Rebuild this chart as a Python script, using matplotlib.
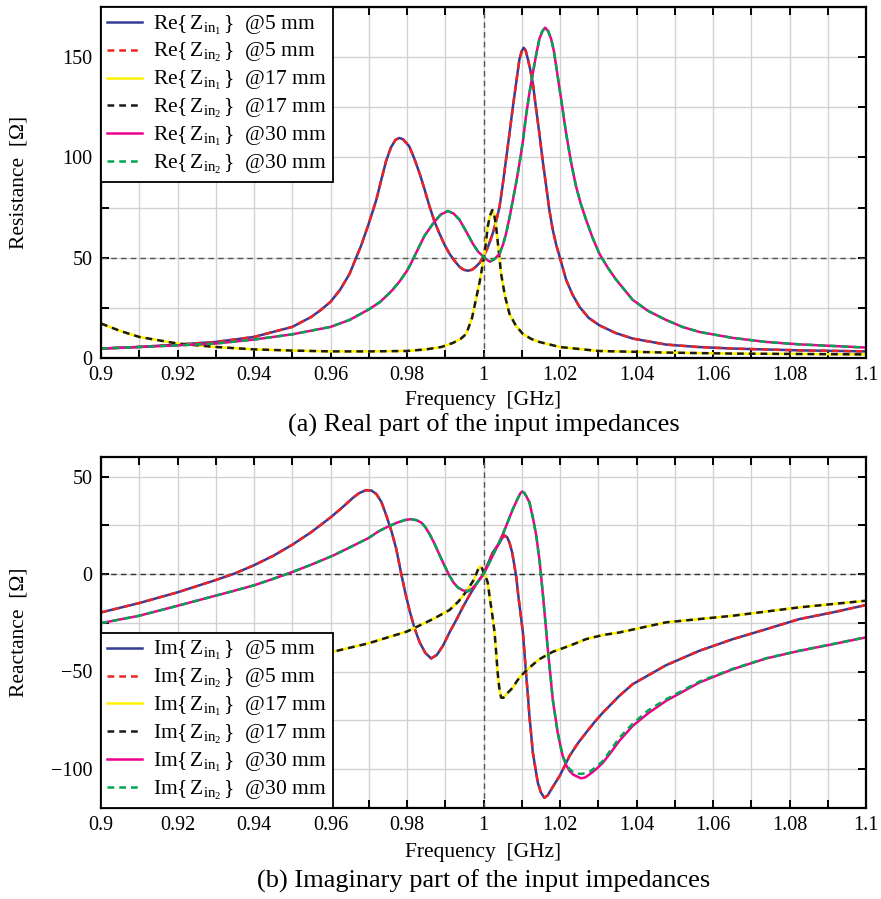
import matplotlib
matplotlib.use('Agg')
import matplotlib.pyplot as plt
from matplotlib.ticker import MultipleLocator, FuncFormatter

plt.rcParams['font.family'] = ['Liberation Serif', 'DejaVu Serif']
plt.rcParams['mathtext.fontset'] = 'custom'
plt.rcParams['mathtext.rm'] = 'Liberation Serif'
plt.rcParams['mathtext.it'] = 'Liberation Serif:italic'
plt.rcParams['mathtext.bf'] = 'Liberation Serif:bold'
plt.rcParams['axes.unicode_minus'] = True

# ---------------- data ----------------
# Resistance, 5 mm
f_re_5 = [0.900, 0.910, 0.920, 0.930, 0.940, 0.950, 0.955, 0.9575, 0.960, 0.9625, 0.965, 0.9667,
          0.968, 0.970, 0.972, 0.9733, 0.9745, 0.9758, 0.977, 0.978, 0.979, 0.9806,
          0.982, 0.9833, 0.9846, 0.9859, 0.9872, 0.9885, 0.9898, 0.9911, 0.9924, 0.9937,
          0.9948, 0.9959, 0.997, 0.998, 0.999, 1.000, 1.0012, 1.0024, 1.0033, 1.0042,
          1.005, 1.0059, 1.0068, 1.0077, 1.0086, 1.0094, 1.010, 1.0105, 1.011, 1.0116,
          1.0122, 1.0129, 1.0137, 1.0146, 1.0155, 1.0164, 1.0172, 1.0181, 1.019, 1.0199,
          1.0216, 1.0233, 1.0251, 1.0275, 1.0303, 1.0345, 1.039, 1.0477, 1.056, 1.0652,
          1.0826, 1.100]
re_5 = [4.7, 5.5, 6.7, 8.0, 10.5, 15.5, 20.5, 24.0, 28.0, 34.0, 42.0, 50.0,
        56.0, 67.0, 79.0, 89.0, 98.0, 105.0, 108.8, 109.7, 109.0, 105.5,
        99.0, 92.0, 84.0, 75.5, 68.0, 62.0, 56.5, 52.0, 48.5, 45.5,
        44.0, 43.5, 44.0, 45.5, 47.5, 50.5, 55.5, 62.0, 68.0, 75.5,
        86.0, 99.0, 112.0, 125.5, 138.0, 149.0, 153.0, 154.7, 153.5, 149.0,
        144.0, 137.0, 125.0, 112.0, 98.0, 85.5, 74.0, 64.0, 56.5, 50.5,
        39.0, 31.5, 25.5, 20.0, 16.3, 12.5, 9.7, 6.7, 5.5, 4.7,
        3.8, 3.3]

# Resistance, 17 mm
f_re_17 = [0.900, 0.905, 0.910, 0.920, 0.930, 0.940, 0.950, 0.960, 0.970, 0.980, 0.985,
           0.989, 0.992, 0.994, 0.9955, 0.997, 0.998, 0.999, 1.000, 1.0006, 1.0011,
           1.0017, 1.0023, 1.0028, 1.0033, 1.004, 1.0046, 1.0056, 1.0068, 1.0085, 1.0103,
           1.0125, 1.0146, 1.0199, 1.030, 1.048, 1.065, 1.100]
re_17 = [17.2, 13.5, 10.5, 7.2, 5.5, 4.3, 3.7, 3.3, 3.3, 3.5, 4.3,
         5.5, 7.5, 9.5, 12.0, 20.0, 29.0, 38.0, 49.0, 57.0, 65.5,
         71.0, 73.8, 71.5, 65.5, 53.0, 42.0, 31.0, 22.0, 16.0, 12.0,
         9.5, 8.0, 5.5, 3.5, 2.7, 2.2, 1.8]

# Resistance, 30 mm
f_re_30 = [0.900, 0.910, 0.920, 0.930, 0.940, 0.950, 0.960, 0.965, 0.970, 0.973, 0.976,
           0.978, 0.980, 0.981, 0.9824, 0.9846, 0.9868, 0.9888, 0.9907, 0.9922, 0.9937,
           0.9955, 0.9972, 0.9986, 1.000, 1.0009, 1.0017, 1.003, 1.0042, 1.0051, 1.0059,
           1.0068, 1.0077, 1.0086, 1.0094, 1.0103, 1.0111, 1.012, 1.0129, 1.0138, 1.0146,
           1.0154, 1.0161, 1.0169, 1.0177, 1.0184, 1.019, 1.0203, 1.0216, 1.0229, 1.0242,
           1.0255, 1.0268, 1.0285, 1.0303, 1.0325, 1.0347, 1.039, 1.043, 1.0477, 1.052,
           1.0564, 1.0652, 1.0739, 1.0826, 1.100]
re_30 = [4.7, 5.5, 6.3, 7.2, 9.2, 11.8, 15.5, 19.0, 24.2, 28.0, 33.5,
         38.0, 43.5, 47.0, 52.5, 61.0, 67.0, 71.5, 73.3, 72.0, 69.0,
         63.0, 57.0, 53.0, 50.5, 49.0, 48.0, 49.5, 52.0, 56.5, 62.0,
         70.0, 79.0, 88.0, 97.0, 108.0, 120.5, 132.0, 142.0, 151.5, 159.0,
         163.0, 164.7, 163.0, 159.0, 153.0, 145.5, 129.0, 112.0, 97.5, 85.5,
         76.5, 69.0, 60.0, 52.0, 45.0, 39.0, 29.0, 23.5, 19.0, 15.5,
         13.0, 10.0, 8.0, 6.8, 5.2]

# Reactance, 5 mm
f_im_5 = [0.900, 0.910, 0.920, 0.930, 0.935, 0.940, 0.945, 0.950, 0.955, 0.960, 0.963,
          0.966, 0.9675, 0.9693, 0.9707, 0.972, 0.9733, 0.9746, 0.976, 0.9772, 0.9785,
          0.9796, 0.9807, 0.982, 0.9833, 0.9848, 0.9863, 0.9878, 0.9894, 0.9911, 0.9929,
          0.9946, 0.9963, 0.998, 1.000, 1.0012, 1.0024, 1.0035, 1.0042, 1.0049, 1.0055,
          1.0062, 1.0068, 1.0075, 1.0081, 1.0086, 1.009, 1.0094, 1.0098, 1.0103, 1.0107,
          1.0111, 1.0116, 1.012, 1.0125, 1.0129, 1.0136, 1.0142, 1.015, 1.0159, 1.0168,
          1.0177, 1.0188, 1.0199, 1.0212, 1.0225, 1.0246, 1.0268, 1.029, 1.0312, 1.0355,
          1.039, 1.0477, 1.0564, 1.0652, 1.0739, 1.0826, 1.0913, 1.100]
im_5 = [-19.7, -14.9, -9.4, -3.1, 0.3, 4.5, 9.3, 15.0, 21.5, 29.0, 34.0,
        39.3, 41.5, 43.0, 42.8, 41.0, 37.0, 30.0, 21.5, 12.8, 0.0,
        -10.0, -19.0, -28.0, -35.0, -40.5, -43.3, -41.5, -36.8, -30.0, -23.5,
        -17.0, -11.0, -5.5, 0.0, 5.5, 11.0, 14.0, 16.0, 18.5, 19.7,
        18.8, 16.0, 11.0, 4.0, -2.0, -9.4, -16.0, -22.0, -30.0, -40.0,
        -50.5, -62.0, -72.8, -83.0, -91.6, -100.0, -107.0, -112.0, -114.8, -113.5,
        -110.5, -107.0, -103.6, -98.5, -93.3, -87.0, -81.4, -76.0, -71.1, -62.5,
        -56.5, -46.8, -39.4, -33.4, -28.3, -23.1, -19.7, -15.9]

# Reactance, 17 mm
f_im_17 = [0.900, 0.920, 0.940, 0.9606, 0.970, 0.980, 0.9868, 0.9911, 0.9935, 0.9955, 0.9968,
           0.9976, 0.9984, 0.999, 0.9995, 1.000, 1.0006, 1.0011, 1.0017, 1.0023, 1.0029,
           1.0033, 1.0037, 1.0041, 1.0046, 1.0052, 1.0059, 1.0068, 1.0077, 1.0087, 1.0098,
           1.012, 1.0146, 1.0181, 1.0225, 1.0268, 1.0312, 1.0355, 1.0477, 1.0652, 1.0826,
           1.100]
im_17 = [-75.0, -58.0, -47.0, -39.9, -35.5, -29.5, -23.1, -18.5, -14.0, -9.0, -5.0,
         -2.6, 1.5, 3.8, 3.5, 0.9, -1.5, -4.3, -13.0, -21.0, -30.0,
         -40.0, -50.5, -58.0, -63.4, -63.5, -61.7, -60.0, -58.2, -55.0, -52.2,
         -48.0, -43.7, -39.9, -36.8, -33.4, -31.3, -30.0, -24.8, -21.4, -17.1,
         -13.7]

# Reactance, 30 mm
f_im_30 = [0.900, 0.910, 0.920, 0.930, 0.935, 0.940, 0.945, 0.950, 0.955, 0.9606, 0.965,
           0.970, 0.9725, 0.975, 0.9775, 0.9795, 0.981, 0.9825, 0.9838, 0.9848, 0.9859, 0.9872,
           0.9885, 0.9898, 0.9911, 0.9922, 0.9933, 0.9946, 0.9959, 0.997, 0.9981, 1.000,
           1.0012, 1.0024, 1.0038, 1.0051, 1.0064, 1.0077, 1.0089, 1.0096, 1.0101, 1.0107,
           1.0113, 1.012, 1.0129, 1.0138, 1.0147, 1.0155, 1.0162, 1.0168, 1.0175, 1.0181,
           1.0188, 1.0194, 1.0201, 1.0207, 1.0216, 1.0225, 1.0234, 1.0242, 1.0255, 1.0266,
           1.0277, 1.0295, 1.0312, 1.0333, 1.0355, 1.039, 1.043, 1.0477, 1.0564, 1.0652,
           1.0739, 1.0826, 1.0913, 1.100]
im_30_1 = [-25.2, -21.4, -16.3, -11.1, -8.5, -5.8, -2.5, 1.0, 4.8, 9.4, 13.6,
           18.5, 21.8, 24.3, 26.4, 27.7, 28.1, 27.6, 26.3, 24.0, 20.5, 15.5,
           9.8, 4.3, -0.9, -4.5, -6.9, -8.4, -8.9, -7.5, -5.1, 0.0,
           4.5, 9.4, 15.0, 20.6, 27.0, 33.4, 38.5, 41.3, 42.3, 41.5,
           39.5, 36.8, 29.0, 19.7, 6.0, -10.0, -25.0, -38.5, -52.0, -64.2,
           -73.5, -81.4, -88.0, -93.3, -98.0, -101.0, -102.8, -103.6, -104.8, -104.3,
           -102.8, -100.0, -96.8, -91.5, -85.6, -77.9, -71.5, -65.1, -55.7, -48.8,
           -43.3, -39.4, -36.0, -32.5]
im_30_2 = [-25.2, -21.4, -16.3, -11.1, -8.5, -5.8, -2.5, 1.0, 4.8, 9.4, 13.6,
           18.5, 21.8, 24.3, 26.4, 27.7, 28.1, 27.6, 26.3, 24.0, 20.5, 15.5,
           9.8, 4.3, -0.9, -4.5, -6.9, -8.4, -8.9, -7.5, -5.1, 0.0,
           4.5, 9.4, 15.0, 20.6, 27.0, 33.4, 38.5, 41.3, 42.3, 41.5,
           39.5, 36.8, 29.0, 19.7, 6.0, -10.0, -25.0, -38.5, -52.0, -64.2,
           -73.5, -81.4, -88.0, -93.3, -97.5, -100.0, -101.5, -102.3, -102.5, -102.2,
           -101.5, -98.8, -95.9, -90.2, -84.0, -76.8, -70.0, -64.3, -55.2, -48.6,
           -43.2, -39.3, -35.9, -32.4]

distances = ['5', '17', '30']
solid_colors = ['#353b96', '#fff200', '#ec008c']
dash_colors = ['#ee2424', '#1a1a1a', '#00a651']

x_ticks_major = [0.90, 0.92, 0.94, 0.96, 0.98, 1.00, 1.02, 1.04, 1.06, 1.08, 1.10]

# ---------------- figure ----------------
W, H = 881, 899
fig = plt.figure(figsize=(W / 100, H / 100), dpi=100)
ax1 = fig.add_axes([101 / W, 1 - 358 / H, 765 / W, 351 / H])
ax2 = fig.add_axes([101 / W, 1 - 808 / H, 765 / W, 351 / H])

FS = 14.5
LFS = 15.5
LW = 1.8
DASH = (2.7, 2.0)


def style_axis(ax, ylim, ymajor, yminor):
    ax.set_xlim(0.9, 1.1)
    ax.set_ylim(*ylim)
    ax.set_xticks(x_ticks_major)
    ax.xaxis.set_minor_locator(MultipleLocator(0.01))
    ax.yaxis.set_major_locator(MultipleLocator(ymajor))
    ax.yaxis.set_minor_locator(MultipleLocator(yminor))
    ax.xaxis.set_major_formatter(FuncFormatter(lambda v, p: f'{v:g}'))
    ax.grid(True, which='both', color='#d2d2d2', lw=1.0, zorder=0)
    ax.set_axisbelow(True)
    ax.tick_params(which='both', direction='in', top=True, right=True,
                   length=6, width=1.4, labelsize=FS, pad=6, color='black')
    for s in ax.spines.values():
        s.set_linewidth(1.6)
        s.set_zorder(10)


def mk_label(part, idx, d):
    return part + r'$\{\,\mathrm{Z}_{\mathrm{in}_{' + str(idx) + r'}}\,\}$  @' + d + ' mm'


def legend(ax, loc, anchor):
    leg = ax.legend(loc=loc, bbox_to_anchor=anchor, borderaxespad=0, fontsize=LFS,
                    fancybox=False, framealpha=1, edgecolor='black', handlelength=1.6,
                    handletextpad=0.5, labelspacing=0.22, borderpad=0.3)
    leg.get_frame().set_linewidth(1.3)
    leg.set_zorder(20)
    return leg


# ---- top: resistance ----
style_axis(ax1, (0, 175), 50, 25)
ax1.axhline(50, color='#555555', lw=1.0, ls=(0, (4, 3)), zorder=1)
ax1.axvline(1.0, color='#555555', lw=1.0, ls=(0, (4, 3)), zorder=1)
re_f = [f_re_5, f_re_17, f_re_30]
re_v1 = [re_5, re_17, re_30]
re_v2 = [re_5, re_17, re_30]
for i, d in enumerate(distances):
    ax1.plot(re_f[i], re_v1[i], color=solid_colors[i], lw=LW, label=mk_label('Re', 1, d), zorder=3 + 2 * i)
    ax1.plot(re_f[i], re_v2[i], color=dash_colors[i], lw=LW, dashes=DASH, label=mk_label('Re', 2, d), zorder=4 + 2 * i)
ax1.set_ylabel('Resistance  [Ω]', fontsize=LFS)
ax1.yaxis.set_label_coords(-0.107, 0.5)
ax1.yaxis.label.set_va('center')
ax1.set_xlabel('Frequency  [GHz]', fontsize=LFS)
ax1.xaxis.label.set_va('baseline')
ax1.xaxis.set_label_coords(0.5, -47 / 351)
legend(ax1, 'upper left', (0, 1))

# ---- bottom: reactance ----
style_axis(ax2, (-120, 60), 50, 25)
ax2.axhline(0, color='#333333', lw=1.0, ls=(0, (4, 3)), zorder=1)
ax2.axvline(1.0, color='#555555', lw=1.0, ls=(0, (4, 3)), zorder=1)
im_f = [f_im_5, f_im_17, f_im_30]
im_v1 = [im_5, im_17, im_30_1]
im_v2 = [im_5, im_17, im_30_2]
for i, d in enumerate(distances):
    ax2.plot(im_f[i], im_v1[i], color=solid_colors[i], lw=LW, label=mk_label('Im', 1, d), zorder=3 + 2 * i)
    ax2.plot(im_f[i], im_v2[i], color=dash_colors[i], lw=LW, dashes=DASH, label=mk_label('Im', 2, d), zorder=4 + 2 * i)
ax2.set_ylabel('Reactance  [Ω]', fontsize=LFS)
ax2.yaxis.set_label_coords(-0.107, 0.5)
ax2.yaxis.label.set_va('center')
ax2.set_xlabel('Frequency  [GHz]', fontsize=LFS)
ax2.xaxis.label.set_va('baseline')
ax2.xaxis.set_label_coords(0.5, -49 / 351)
legend(ax2, 'lower left', (0, 0))

# captions
cx = (101 + 866) / 2 / W
fig.text(cx, 1 - 432 / H, '(a) Real part of the input impedances', ha='center', va='baseline', fontsize=19)
fig.text(cx, 1 - 888 / H, '(b) Imaginary part of the input impedances', ha='center', va='baseline', fontsize=19)

fig.savefig('out.png', dpi=100)
